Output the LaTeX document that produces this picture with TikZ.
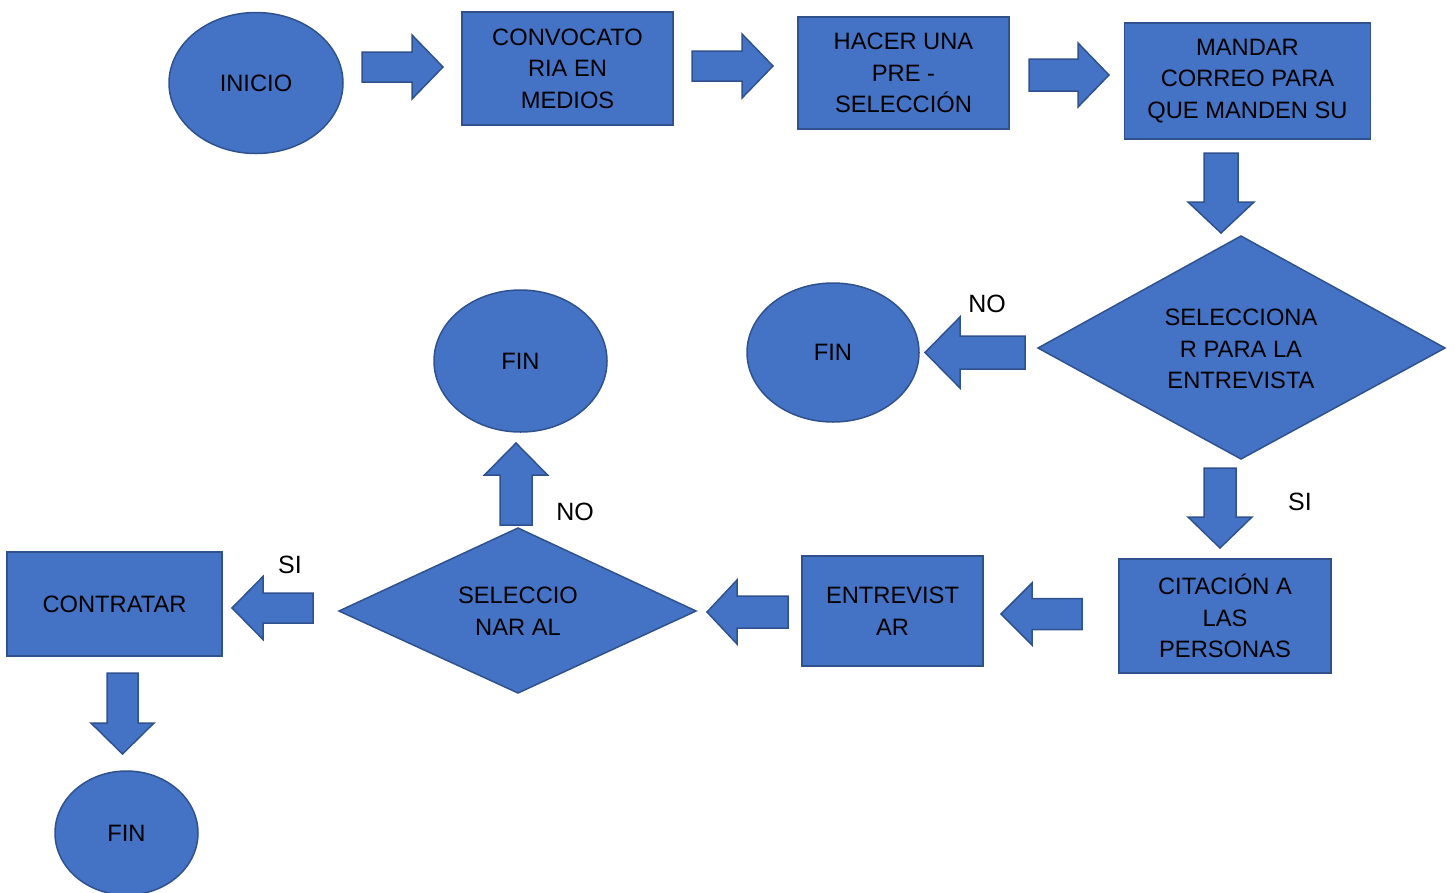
\documentclass[tikz,border=0pt]{standalone}
\usepackage{fontspec}
\setmainfont{Liberation Sans}
\usetikzlibrary{shapes.geometric}
\definecolor{fillb}{HTML}{4472C4}
\definecolor{lineb}{HTML}{2F528F}
\tikzset{
  shp/.style={fill=fillb, draw=lineb, line width=1.5pt},
  txt/.style={font=\fontsize{23.7}{31.5}\selectfont, align=center, text=black},
  ell/.style={shp, txt, ellipse, inner sep=0pt},
  box/.style={shp, txt, rectangle, inner sep=0pt},
  blk/.style={shp, line join=miter},
  lbl/.style={txt, inner sep=0pt},
  yn/.style={font=\fontsize{25}{30}\selectfont, text=black, inner sep=0pt}
}
\newcommand\harrow[6]{\draw[blk] (#2,#1-#5) -- (#3,#1-#5) -- (#3,#1-#6) -- (#4,#1) -- (#3,#1+#6) -- (#3,#1+#5) -- (#2,#1+#5) -- cycle;}
\newcommand\varrow[6]{\draw[blk] (#1-#5,#2) -- (#1-#5,#3) -- (#1-#6,#3) -- (#1,#4) -- (#1+#6,#3) -- (#1+#5,#3) -- (#1+#5,#2) -- cycle;}
\begin{document}
\begin{tikzpicture}[x=1pt,y=-1pt]
\useasboundingbox (0,0) rectangle (1455,892);
% top row
\node[ell, minimum width=174pt, minimum height=141pt] (inicio) at (256,83) {INICIO};
\node[box, minimum width=211pt, minimum height=113pt] (conv) at (567.5,68.5) {CONVOCATO\\RIA EN\\MEDIOS};
\node[box, minimum width=211pt, minimum height=112pt] (hacer) at (903.5,73) {HACER UNA\\PRE -\\SELECCIÓN};
\node[box, minimum width=246pt, minimum height=116pt] (mandar) at (1247.5,81) {MANDAR\\CORREO PARA\\QUE MANDEN SU};
\harrow{67}{362}{412}{443}{15}{32}
\harrow{66}{692}{742}{773}{15}{32}
\harrow{75}{1029}{1078}{1109}{16}{32}
\varrow{1221}{153}{202}{233}{17}{33}
% decision 1
\draw[shp, line join=miter] (1241,236) -- (1445,348) -- (1241,459) -- (1038,348) -- cycle;
\node[lbl] (sel1) at (1241,349) {SELECCIONA\\R PARA LA\\ENTREVISTA};
\node[ell, minimum width=172pt, minimum height=139pt] (fin1) at (833,352.5) {FIN};
\harrow{352.5}{1025}{960}{925}{16.5}{35.5}
\node[yn] (no1) at (987,304) {NO};
\varrow{1220}{468}{517}{548}{16}{32}
\node[yn] (si1) at (1300,502) {SI};
% bottom row
\node[box, minimum width=212pt, minimum height=114pt] (cita) at (1225,616) {CITACIÓN A\\LAS\\PERSONAS};
\harrow{614}{1082}{1032}{1001}{15.5}{31}
\node[box, minimum width=181pt, minimum height=110pt] (entre) at (892.5,611) {ENTREVIST\\AR};
\harrow{612}{788}{737}{707}{16}{32}
\draw[shp, line join=miter] (518,528) -- (696,611) -- (518,693) -- (339,611) -- cycle;
\node[lbl] (sel2) at (518,611) {SELECCIO\\NAR AL};
\varrow{516}{525}{475}{443}{16}{31.5}
\node[yn] (no2) at (575,512) {NO};
\node[ell, minimum width=173pt, minimum height=142pt] (fin2) at (520.5,361) {FIN};
\harrow{608}{313}{263}{232}{15}{31.5}
\node[yn] (si2) at (290,565) {SI};
\node[box, minimum width=215pt, minimum height=104pt] (contr) at (114.5,604) {CONTRATAR};
\varrow{122.5}{673}{723}{754}{15.5}{31.5}
\node[ell, minimum width=143pt, minimum height=124pt] (fin3) at (126.5,833) {FIN};
\end{tikzpicture}
\end{document}
